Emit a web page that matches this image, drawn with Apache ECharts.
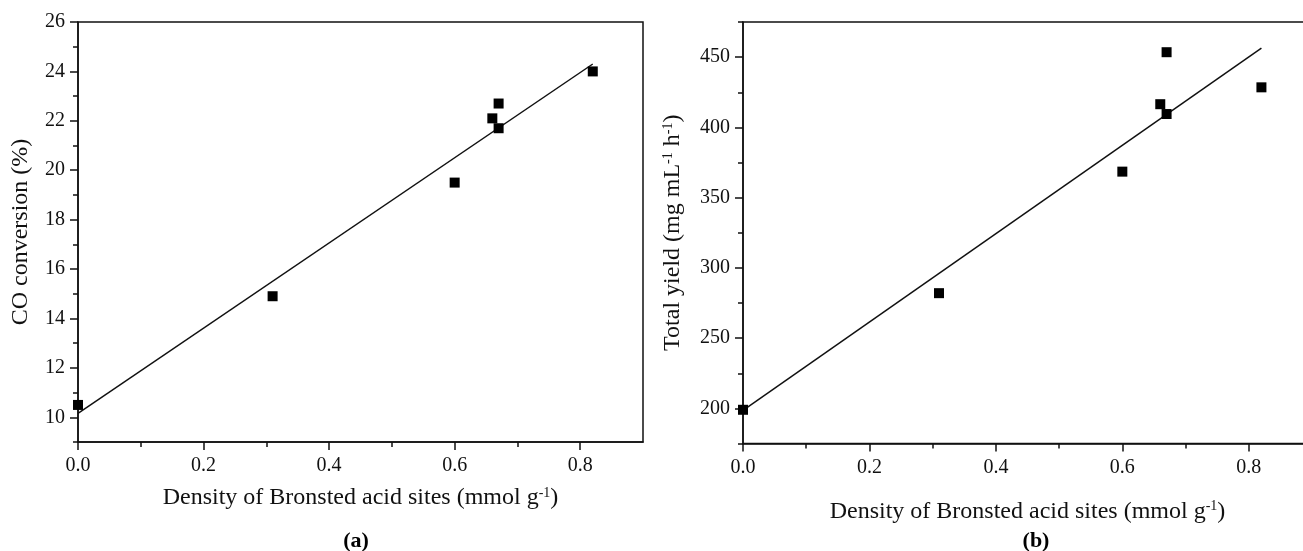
<!DOCTYPE html>
<html>
<head>
<meta charset="utf-8">
<script src="https://cdn.jsdelivr.net/npm/echarts@6/dist/echarts.min.js"></script>
<style>
html,body{margin:0;padding:0;background:#fff;}
#chart{width:1303px;height:551px;}
</style>
</head>
<body>
<div id="chart"></div>
<script>
// ---- data ----
const density = [0, 0.31, 0.60, 0.66, 0.67, 0.67, 0.82];
const coConversion = [10.5, 14.9, 19.5, 22.1, 22.7, 21.7, 24.0];
const totalYield = [199, 282, 368.5, 416.5, 453.5, 409.5, 428.5];
const fitX = [0, 0.82];
const fitCO = [10.16, 24.3];
const fitYield = [198.5, 456.4];

// ---- ticks ----
const xMajorTicks = [0, 0.2, 0.4, 0.6, 0.8];
const xMinorTicks = [0.1, 0.3, 0.5, 0.7];
const coMajorTicks = [10, 12, 14, 16, 18, 20, 22, 24, 26];
const coMinorTicks = [9, 11, 13, 15, 17, 19, 21, 23, 25];
const yieldMajorTicks = [200, 250, 300, 350, 400, 450];
const yieldMinorTicks = [175, 225, 275, 325, 375, 425, 475];

const FONT = '"Liberation Serif", "DejaVu Serif", serif';
const INK = '#111';

const pairs = (xs, ys) => xs.map((x, i) => [x, ys[i]]);

function axisBase(extra) {
  return Object.assign({
    type: 'value',
    splitLine: { show: false },
    axisLine: { show: true, lineStyle: { color: INK, width: 1.5 } },
    axisTick: { show: true, inside: false, length: 8, lineStyle: { color: INK, width: 1.5 } },
    axisLabel: { color: INK, fontFamily: FONT, fontSize: 20, margin: 13 }
  }, extra);
}
function minorAxis(extra, ticks) {
  return Object.assign({
    type: 'value',
    splitLine: { show: false },
    axisLine: { show: false },
    axisLabel: { show: false },
    axisTick: { show: true, inside: false, length: 5, customValues: ticks, lineStyle: { color: INK, width: 1.5 } }
  }, extra);
}

const nameStyle = {
  color: INK, fontFamily: FONT, fontSize: 24,
  rich: { sup: { fontSize: 14, verticalAlign: 'top', fontFamily: FONT, color: INK } }
};

const xName = 'Density of Bronsted acid sites (mmol g{sup|-1})';

const option = {
  animation: false,
  backgroundColor: '#fff',
  grid: [
    { left: 78, top: 22, width: 565, height: 420, show: true, borderColor: INK, borderWidth: 1.5, backgroundColor: 'transparent', outerBoundsMode: 'none', containLabel: false },
    { left: 743, top: 22, width: 569, height: 421.5, show: true, borderColor: INK, borderWidth: 1.5, backgroundColor: 'transparent', outerBoundsMode: 'none', containLabel: false }
  ],
  xAxis: [
    axisBase({ gridIndex: 0, min: 0, max: 0.9, name: xName, nameLocation: 'middle', nameGap: 44, nameTextStyle: nameStyle,
      axisTick: { show: true, length: 8, customValues: xMajorTicks, lineStyle: { color: INK, width: 1.5 } },
      axisLabel: { color: INK, fontFamily: FONT, fontSize: 20, margin: 14, customValues: xMajorTicks, formatter: v => v.toFixed(1) } }),
    minorAxis({ gridIndex: 0, min: 0, max: 0.9, position: 'bottom' }, xMinorTicks),
    axisBase({ gridIndex: 1, min: 0, max: 0.9, name: xName, nameLocation: 'middle', nameGap: 56, nameTextStyle: nameStyle,
      axisTick: { show: true, length: 8, customValues: xMajorTicks, lineStyle: { color: INK, width: 1.5 } },
      axisLabel: { color: INK, fontFamily: FONT, fontSize: 20, margin: 14, customValues: xMajorTicks, formatter: v => v.toFixed(1) } }),
    minorAxis({ gridIndex: 1, min: 0, max: 0.9, position: 'bottom' }, xMinorTicks)
  ],
  yAxis: [
    axisBase({ gridIndex: 0, min: 9, max: 26, name: 'CO conversion (%)', nameLocation: 'middle', nameGap: 45, nameTextStyle: nameStyle,
      axisTick: { show: true, length: 8, customValues: coMajorTicks, lineStyle: { color: INK, width: 1.5 } },
      axisLabel: { color: INK, fontFamily: FONT, fontSize: 20, margin: 13, customValues: coMajorTicks } }),
    minorAxis({ gridIndex: 0, min: 9, max: 26, position: 'left' }, coMinorTicks),
    axisBase({ gridIndex: 1, min: 175, max: 475, name: 'Total yield (mg mL{sup|-1} h{sup|-1})', nameLocation: 'middle', nameGap: 58, nameTextStyle: nameStyle,
      axisTick: { show: true, length: 8, customValues: yieldMajorTicks, lineStyle: { color: INK, width: 1.5 } },
      axisLabel: { color: INK, fontFamily: FONT, fontSize: 20, margin: 13, customValues: yieldMajorTicks } }),
    minorAxis({ gridIndex: 1, min: 175, max: 475, position: 'left' }, yieldMinorTicks)
  ],
  series: [
    { type: 'line', xAxisIndex: 0, yAxisIndex: 0, data: pairs(fitX, fitCO), symbol: 'none', lineStyle: { color: INK, width: 1.5 }, z: 2 },
    { type: 'scatter', xAxisIndex: 0, yAxisIndex: 0, data: pairs(density, coConversion), symbol: 'rect', symbolSize: 10, itemStyle: { color: '#000', opacity: 1 }, z: 3 },
    { type: 'line', xAxisIndex: 2, yAxisIndex: 2, data: pairs(fitX, fitYield), symbol: 'none', lineStyle: { color: INK, width: 1.5 }, z: 2 },
    { type: 'scatter', xAxisIndex: 2, yAxisIndex: 2, data: pairs(density, totalYield), symbol: 'rect', symbolSize: 10, itemStyle: { color: '#000', opacity: 1 }, z: 3 }
  ],
  graphic: [
    { type: 'text', x: 356, y: 541, style: { text: '(a)', font: 'bold 22px "Liberation Serif"', fill: '#000', align: 'center', verticalAlign: 'middle' } },
    { type: 'text', x: 1036, y: 541, style: { text: '(b)', font: 'bold 22px "Liberation Serif"', fill: '#000', align: 'center', verticalAlign: 'middle' } }
  ]
};

const chart = echarts.init(document.getElementById('chart'), null, { renderer: 'canvas' });
chart.setOption(option);
</script>
</body>
</html>
